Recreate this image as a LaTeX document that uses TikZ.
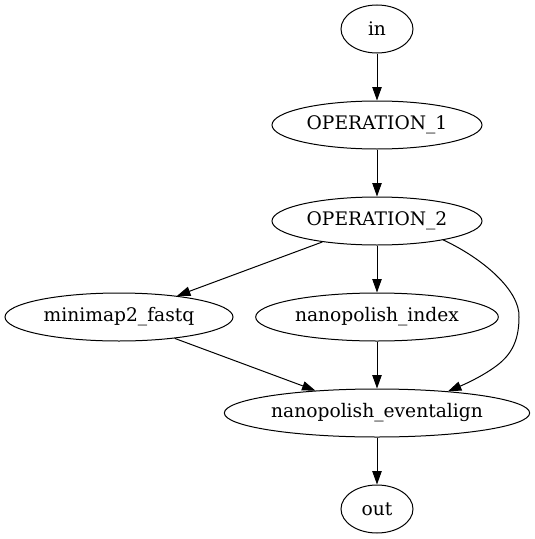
\documentclass[tikz,border=0pt]{standalone}
\usepackage{fontspec}
\setmainfont{DejaVu Serif}
\usetikzlibrary{arrows.meta,shapes.geometric}

\begin{document}
\begin{tikzpicture}
			[x=0.75pt,y=-0.75pt,
			every node/.style={draw,ellipse,inner sep=0pt,minimum height=36pt,font=\fontsize{14}{16}\selectfont},
			every path/.style={line width=0.75pt},
			edge/.style={-{Triangle[length=10pt,width=7pt]}}]
			\useasboundingbox (0,0) rectangle (535,539);
			\node[minimum width=54pt] (in) at (377,29) {in};
			\node[minimum width=157.5pt] (op1) at (377,125) {OPERATION\_1};
			\node[minimum width=157.5pt] (op2) at (377,221) {OPERATION\_2};
			\node[minimum width=171pt] (fastq) at (119,317) {minimap2\_fastq};
			\node[minimum width=182pt] (index) at (377,317) {nanopolish\_index};
			\node[minimum width=229pt] (align) at (377,413) {nanopolish\_eventalign};
			\node[minimum width=54pt] (out) at (377,509) {out};
			\draw[edge] (in) -- (op1);
			\draw[edge] (op1) -- (op2);
			\draw[edge] (op2.201) -- (fastq.20);
			\draw[edge] (op2) -- (index);
			\draw[edge] (op2.-16) .. controls (482,258) and (520,290) .. (519,317)
				.. controls (519,338) and (513,352) .. (500,363)
				.. controls (488,373) and (470,382) .. (align.17);
			\draw[edge] (fastq.-21) -- (align.160);
			\draw[edge] (index) -- (align);
			\draw[edge] (align) -- (out);
		\end{tikzpicture}
\end{document}
